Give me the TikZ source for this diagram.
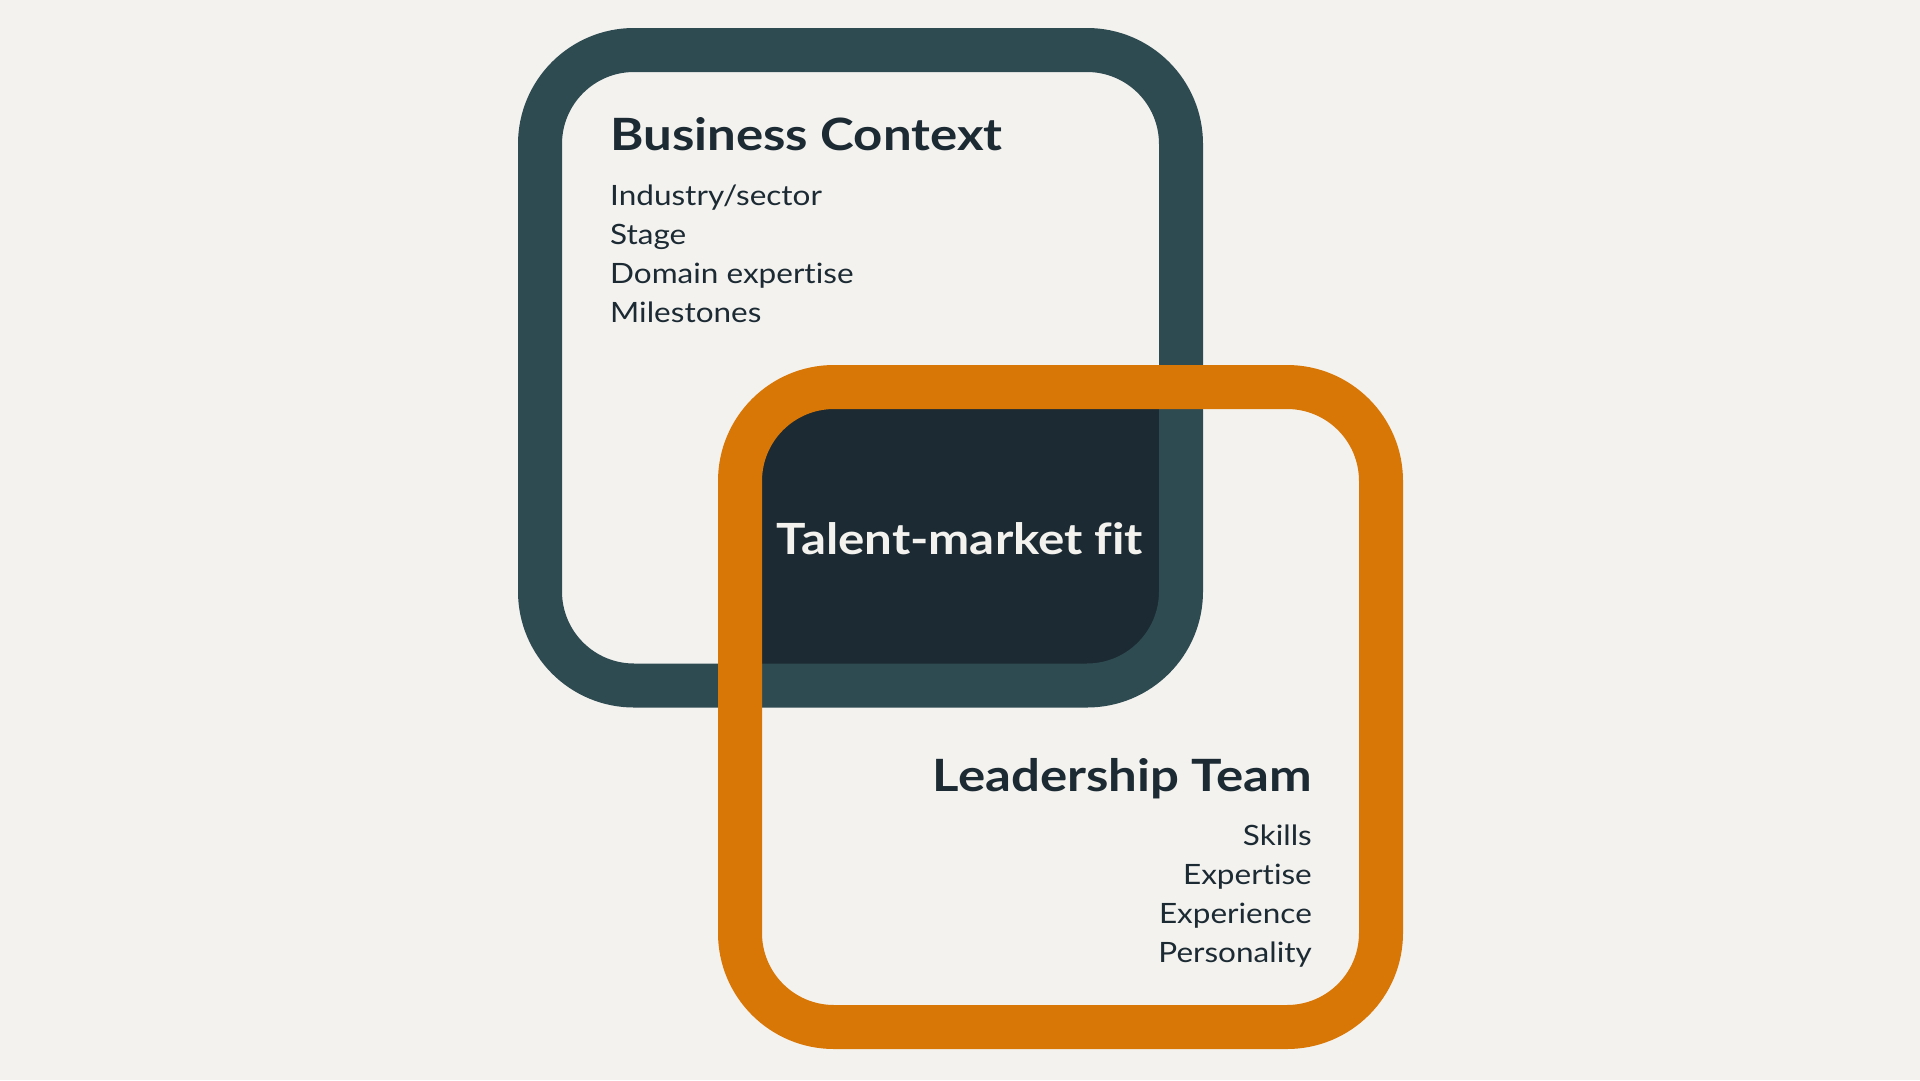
\documentclass[tikz,border=0pt]{standalone}
\usepackage{fontspec}
\setmainfont{Lato}[FakeStretch=1.145,Ligatures={NoCommon},RawFeature={-liga;-dlig}]
\newfontfamily\itemfont{Lato}[FakeStretch=1.125,Ligatures={NoCommon},RawFeature={-liga;-dlig}]
\definecolor{bg}{HTML}{F3F2EF}
\definecolor{slate}{HTML}{2F4B52}
\definecolor{ink}{HTML}{1C2A33}
\definecolor{amber}{HTML}{D97706}
\begin{document}
\begin{tikzpicture}[x=1pt,y=-1pt,
  frame/.style={line width=44pt,rounded corners=94pt},
  heading/.style={text=ink,inner sep=0pt,font=\fontsize{44.5}{50}\selectfont\bfseries},
  item/.style={text=ink,inner sep=0pt,font=\itemfont\fontsize{28}{34}\selectfont},
  centre/.style={text=bg,inner sep=0pt,font=\fontsize{43}{50}\selectfont\bfseries}]
\fill[bg] (0,0) rectangle (1920,1080);
\useasboundingbox (0,0) rectangle (1920,1080);
% overlap fill
\begin{scope}
  \clip[rounded corners=94pt] (540,50) rectangle (1181,685.5);
  \fill[ink,rounded corners=94pt] (740,387) rectangle (1381,1027);
\end{scope}
% frames
\draw[frame,slate] (540,50) rectangle (1181,685.5);
\draw[frame,amber] (740,387) rectangle (1381,1027);
% texts
\node[heading,anchor=base west] (bc) at (610,150) {Business Context};
\node[item,anchor=base west] (b1) at (610,205) {Industry/sector};
\node[item,anchor=base west] (b2) at (610,244) {Stage};
\node[item,anchor=base west] (b3) at (610,283) {Domain expertise};
\node[item,anchor=base west] (b4) at (610,322) {Milestones};
\node[centre,anchor=base] (tm) at (960,554) {Talent-market fit};
\node[heading,anchor=base east] (lt) at (1312,791) {Leadership Team};
\node[item,anchor=base east] (l1) at (1312,845) {Skills};
\node[item,anchor=base east] (l2) at (1312,884) {Expertise};
\node[item,anchor=base east] (l3) at (1312,923) {Experience};
\node[item,anchor=base east] (l4) at (1312,962) {Personality};
\end{tikzpicture}
\end{document}
